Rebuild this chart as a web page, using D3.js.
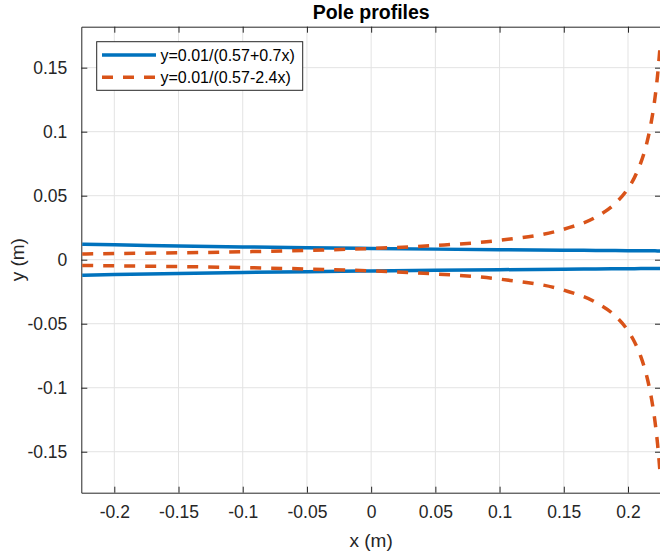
<!DOCTYPE html>
<html lang="en">
<head>
  <meta charset="UTF-8">
  <title>Pole profiles</title>
  <style>
    body { margin: 0; background: #fff; }
    text { font-family: 'Liberation Sans', Arial, sans-serif; fill: #262626; }
  </style>
</head>
<body>
  <svg id="svg" width="660" height="556"></svg>
  <script src="https://d3js.org/d3.v7.min.js"></script>
  <script>
    // sample positions along the pole (m)
    const xs = [-0.225, -0.2, -0.15, -0.1, -0.05, 0, 0.05, 0.1, 0.15, 0.175, 0.19, 0.2,
      0.205, 0.21, 0.215, 0.218, 0.221, 0.223, 0.225]
    // upper profile, solid blue
    const blueY = [0.01212, 0.01163, 0.01075, 0.01, 0.00935, 0.00877, 0.00826, 0.00781,
      0.00741, 0.00722, 0.00711, 0.00704, 0.00701, 0.00697, 0.00694, 0.00692, 0.0069,
      0.00689, 0.00687]
    // upper profile, dashed orange
    const orangeY = [0.0045, 0.00476, 0.00538, 0.00617, 0.00725, 0.00877, 0.01111, 0.01515,
      0.02381, 0.03333, 0.04386, 0.05556, 0.0641, 0.07576, 0.09259, 0.10684, 0.12626,
      0.14368, 0.16667]
    const xTicks = [-0.2, -0.15, -0.1, -0.05, 0, 0.05, 0.1, 0.15, 0.2]
    const yTicks = [-0.15, -0.1, -0.05, 0, 0.05, 0.1, 0.15]
    const legendLabels = ['y=0.01/(0.57+0.7x)', 'y=0.01/(0.57-2.4x)']

    const blue = '#0072BD'
    const orange = '#D95319'
    const pLeft = 81.3, pTop = 26.7, pRight = 661, pBottom = 492.7

    const xScale = d3.scaleLinear().domain([-0.2257, 0.2257]).range([pLeft, pRight])
    const yScale = d3.scaleLinear().domain([-0.182, 0.182]).range([pBottom, pTop])

    const svg = d3.select('#svg')

    svg.append('defs').append('clipPath').attr('id', 'clip')
      .append('rect')
      .attr('x', pLeft).attr('y', pTop)
      .attr('width', pRight - pLeft).attr('height', pBottom - pTop)

    // grid
    const grid = svg.append('g')
    grid.selectAll('.gx').data(xTicks).enter().append('line')
      .attr('x1', d => xScale(d)).attr('x2', d => xScale(d))
      .attr('y1', pTop).attr('y2', pBottom)
      .attr('stroke', '#e3e3e3').attr('stroke-width', 1)
    grid.selectAll('.gy').data(yTicks).enter().append('line')
      .attr('y1', d => yScale(d)).attr('y2', d => yScale(d))
      .attr('x1', pLeft).attr('x2', pRight)
      .attr('stroke', '#e3e3e3').attr('stroke-width', 1)

    // axes (box on, ticks inside)
    const axisStyle = g => {
      g.select('.domain').attr('stroke', '#262626')
      g.selectAll('.tick line').attr('stroke', '#262626')
      g.selectAll('.tick text').style('font-size', '17.5px')
        .style('font-family', "'Liberation Sans', Arial, sans-serif").attr('fill', '#262626')
    }
    const fmt = d => String(d)
    svg.append('g').attr('transform', `translate(0,${pBottom})`)
      .call(d3.axisBottom(xScale).tickValues(xTicks).tickFormat(fmt).tickSizeInner(-6).tickSizeOuter(0).tickPadding(13))
      .call(axisStyle)
    svg.append('g').attr('transform', `translate(0,${pTop})`)
      .call(d3.axisTop(xScale).tickValues(xTicks).tickFormat('').tickSizeInner(-6).tickSizeOuter(0))
      .call(axisStyle)
    svg.append('g').attr('transform', `translate(${pLeft},0)`)
      .call(d3.axisLeft(yScale).tickValues(yTicks).tickFormat(fmt).tickSizeInner(-6).tickSizeOuter(0).tickPadding(14))
      .call(axisStyle)
    svg.append('g').attr('transform', `translate(${pRight},0)`)
      .call(d3.axisRight(yScale).tickValues(yTicks).tickFormat('').tickSizeInner(-6).tickSizeOuter(0))
      .call(axisStyle)

    // curves
    const plot = svg.append('g').attr('clip-path', 'url(#clip)')
    const line = sign => d3.line()
      .x((d, i) => xScale(xs[i]))
      .y(d => yScale(sign * d))
      .curve(d3.curveMonotoneX)
    const series = [
      { values: blueY, color: blue, dash: null },
      { values: orangeY, color: orange, dash: '11,10' }
    ]
    series.forEach(s => {
      [1, -1].forEach(sign => {
        plot.append('path')
          .datum(s.values)
          .attr('d', line(sign))
          .attr('fill', 'none')
          .attr('stroke', s.color)
          .attr('stroke-width', 3.5)
          .attr('stroke-dasharray', s.dash)
      })
    })

    // title and labels
    svg.append('text').text('Pole profiles')
      .attr('x', (pLeft + pRight) / 2).attr('y', 19)
      .attr('text-anchor', 'middle')
      .style('font-size', '19.5px').style('font-weight', 'bold')
      .style('fill', '#000')
    svg.append('text').text('x (m)')
      .attr('x', (pLeft + pRight) / 2).attr('y', 547)
      .attr('text-anchor', 'middle')
      .style('font-size', '19px')
    svg.append('text').text('y (m)')
      .attr('transform', `translate(24,${(pTop + pBottom) / 2}) rotate(-90)`)
      .attr('text-anchor', 'middle')
      .style('font-size', '19px')

    // legend
    const legend = svg.append('g')
    legend.append('rect')
      .attr('x', 96.7).attr('y', 41.7).attr('width', 206).attr('height', 48.6)
      .attr('fill', '#fff').attr('stroke', '#262626').attr('stroke-width', 1)
    legendLabels.forEach((lab, i) => {
      const y = 55 + i * 22.3
      legend.append('line')
        .attr('x1', 102).attr('x2', 156).attr('y1', y).attr('y2', y)
        .attr('stroke', series[i].color).attr('stroke-width', 3.5)
        .attr('stroke-dasharray', series[i].dash)
      legend.append('text').text(lab)
        .attr('x', 160.5).attr('y', y + 5.8)
        .style('font-size', '16px').style('fill', '#000')
    })
  </script>
</body>
</html>
